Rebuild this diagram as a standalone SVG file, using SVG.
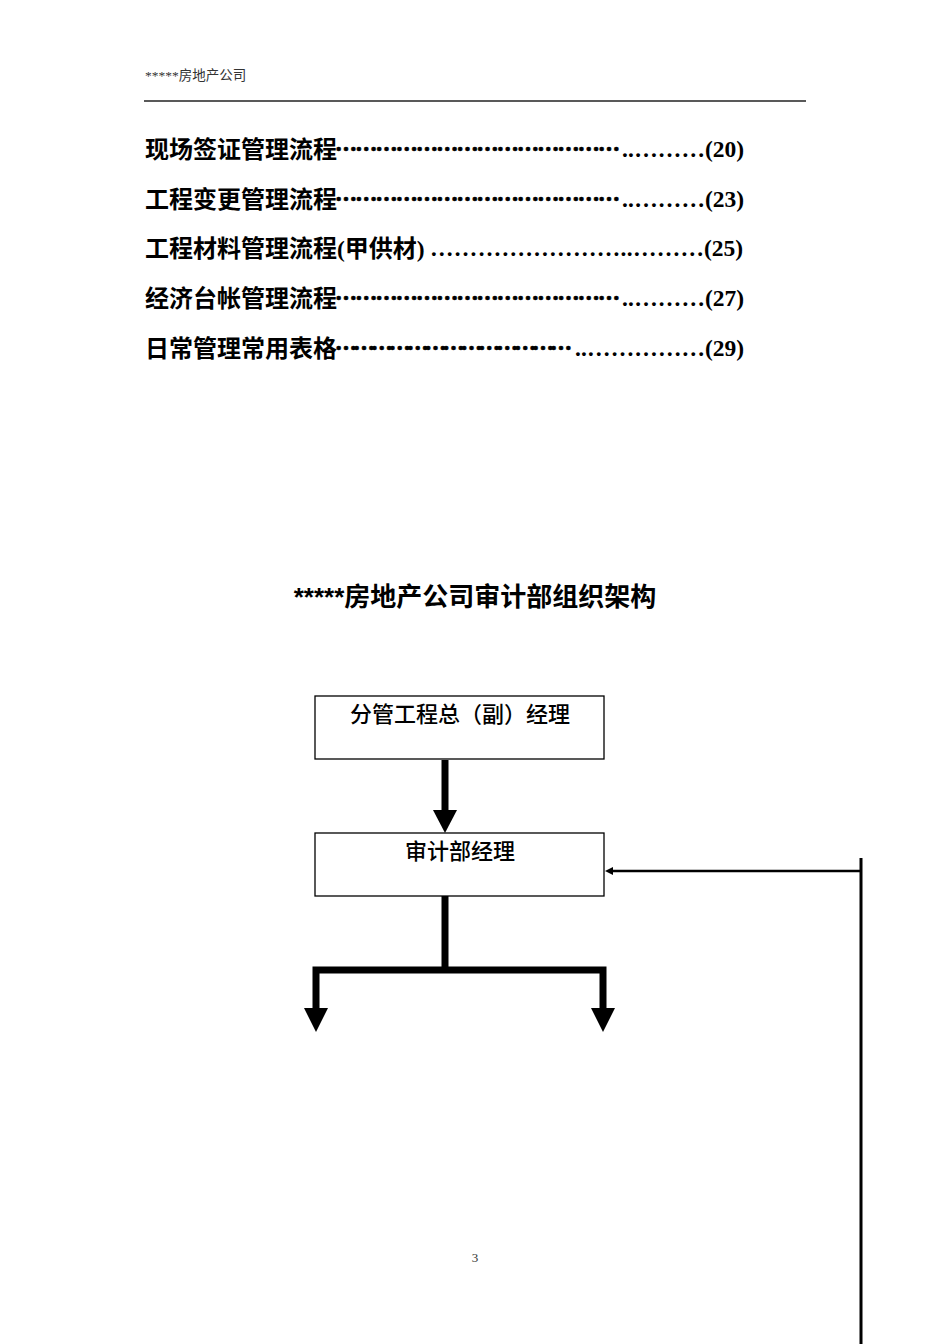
<svg xmlns="http://www.w3.org/2000/svg" width="950" height="1344" viewBox="0 0 950 1344">
<style>
.hdr{font-family:"Liberation Serif","Noto Sans CJK SC",serif;font-size:13.5px;fill:#333}
.pg{font-family:"Liberation Serif",serif;font-size:13px;fill:#333}
.cjk{font-family:"Noto Sans CJK SC",sans-serif;font-weight:bold;font-size:24px;fill:#000}
.ser{font-family:"Liberation Serif","Noto Sans CJK SC",serif;font-weight:bold;font-size:23.5px;fill:#000}
.mid{font-family:"Noto Sans CJK SC",sans-serif;font-weight:900;font-size:22px;fill:#000;stroke:#000;stroke-width:0.6}
.title{font-family:"Liberation Sans","Noto Sans CJK SC",sans-serif;font-weight:bold;font-size:26px;fill:#000}
.box{fill:#fff;stroke:#000;stroke-width:1.3}
.lbl{font-family:"Noto Sans CJK SC",sans-serif;font-weight:500;font-size:22px;fill:#000;text-anchor:middle}
</style>
<rect width="950" height="1344" fill="#fff"/>
<g id="header">
<text class="hdr" x="145" y="80">*****房地产公司</text>
<line x1="144" y1="101" x2="806" y2="101" stroke="#222" stroke-width="1.5"/>
</g>
<g id="toc">
<text class="cjk" x="145" y="158">现场签证管理流程</text>
<text class="mid" x="335" y="157" textLength="285" lengthAdjust="spacing">……………………………………</text>
<text class="ser" x="622" y="157" textLength="83" lengthAdjust="spacing">..………</text>
<text class="ser" x="705" y="157">(20)</text>

<text class="cjk" x="145" y="208">工程变更管理流程</text>
<text class="mid" x="335" y="207" textLength="285" lengthAdjust="spacing">……………………………………</text>
<text class="ser" x="622" y="207" textLength="83" lengthAdjust="spacing">..………</text>
<text class="ser" x="705" y="207">(23)</text>

<text class="cjk" x="145" y="257">工程材料管理流程<tspan class="ser">(</tspan>甲供材<tspan class="ser">)</tspan></text>
<text class="ser" x="430" y="256" textLength="274" lengthAdjust="spacing">……………………..………</text>
<text class="ser" x="704" y="256">(25)</text>

<text class="cjk" x="145" y="307">经济台帐管理流程</text>
<text class="mid" x="335" y="306" textLength="285" lengthAdjust="spacing">……………………………………</text>
<text class="ser" x="622" y="306" textLength="83" lengthAdjust="spacing">..………</text>
<text class="ser" x="705" y="306">(27)</text>

<text class="cjk" x="145" y="357">日常管理常用表格</text>
<text class="mid" x="335" y="356" textLength="237" lengthAdjust="spacing">…………………………………</text>
<text class="ser" x="575" y="356" textLength="130" lengthAdjust="spacing">..……………</text>
<text class="ser" x="705" y="356">(29)</text>
</g>
<text class="title" x="475" y="606" text-anchor="middle">*****房地产公司审计部组织架构</text>
<g id="node-vp">
<rect class="box" x="315" y="696" width="289" height="63"/>
<text class="lbl" x="460" y="722">分管工程总（副）经理</text>
</g>
<g id="node-audit">
<rect class="box" x="315" y="833" width="289" height="63"/>
<text class="lbl" x="460" y="859">审计部经理</text>
</g>
<g id="connectors">
<line x1="445" y1="760" x2="445" y2="812" stroke="#000" stroke-width="7"/>
<path d="M433,810 L457,810 L445,833 z" fill="#000"/>
<line x1="445" y1="896" x2="445" y2="971" stroke="#000" stroke-width="7"/>
<polyline points="316,1010 316,970 603,970 603,1010" fill="none" stroke="#000" stroke-width="7"/>
<path d="M304,1008 L328,1008 L316,1032 z" fill="#000"/>
<path d="M591,1008 L615,1008 L603,1032 z" fill="#000"/>
<line x1="861" y1="858" x2="861" y2="1344" stroke="#000" stroke-width="3"/>
<line x1="861" y1="871" x2="610" y2="871" stroke="#000" stroke-width="2.5"/>
<path d="M605,871 L613,867 L613,875 z" fill="#000"/>
</g>
<text class="pg" x="475" y="1262" text-anchor="middle">3</text>
</svg>
